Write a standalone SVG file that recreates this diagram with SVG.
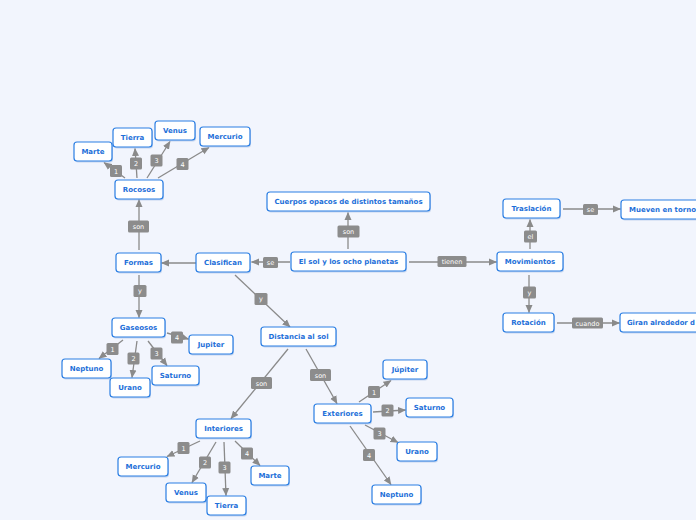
<svg xmlns="http://www.w3.org/2000/svg" width="696" height="520" viewBox="0 0 696 520">
<defs>
<marker id="ah" markerUnits="userSpaceOnUse" markerWidth="8" markerHeight="8" refX="7.5" refY="4" orient="auto">
<path d="M0,0.5 L8,4 L0,7.5 z" fill="#8a8a8a"/>
</marker>
<style>
.n rect.b{fill:#ffffff;stroke:#2a7ee3;stroke-width:1.2}
.n rect.s{fill:#8fb0de;opacity:0.45}
.n text{font-family:"DejaVu Sans",Verdana,sans-serif;font-weight:bold;font-size:7px;fill:#1d6fd9;text-anchor:middle}
.c path{stroke:#8a8a8a;stroke-width:1.3;fill:none;marker-end:url(#ah)}
.l rect{fill:#8c8c8c}
.l text{font-family:"DejaVu Sans",Verdana,sans-serif;font-size:6.5px;fill:#ffffff;text-anchor:middle}
</style>
</defs>
<rect width="696" height="520" fill="#f2f5fd"/>
<g id="connectors" class="c">
<path d="M348,249 L348,212.5"/>
<path d="M290,262 L251.5,262"/>
<path d="M409,262 L496.5,262"/>
<path d="M196,263 L161.5,263"/>
<path d="M235,275 L290,327"/>
<path d="M139,250 L139,199.5"/>
<path d="M139,275 L139,317.5"/>
<path d="M125,178 L104,162.5"/>
<path d="M137,178 L135,148.5"/>
<path d="M147,178 L170,141.5"/>
<path d="M158,178 L209,147.5"/>
<path d="M123,340 L99,358.5"/>
<path d="M137,341 L132,377.5"/>
<path d="M148,341 L167,365.5"/>
<path d="M167,333 L188.5,339"/>
<path d="M288,349 L231,418.5"/>
<path d="M306,349 L337,403.5"/>
<path d="M359,402 L391,380.5"/>
<path d="M373,412 L405.5,410"/>
<path d="M365,425 L398,442.5"/>
<path d="M350,426 L391,484.5"/>
<path d="M200,441 L167,456.5"/>
<path d="M216,442 L192,482.5"/>
<path d="M224,442 L226,495.5"/>
<path d="M235,441 L260,465.5"/>
<path d="M530,249 L530,219.5"/>
<path d="M529,275 L529,312.5"/>
<path d="M563,209 L620.5,209"/>
<path d="M557,323 L619.5,323"/>
<g class="l">
<rect x="337.5" y="225.5" width="22" height="12" rx="1.5"/><text x="348.5" y="234">son</text>
<rect x="263" y="257" width="15" height="11" rx="1.5"/><text x="270.5" y="265">se</text>
<rect x="437.5" y="256" width="29" height="11" rx="1.5"/><text x="452" y="264">tienen</text>
<rect x="254.5" y="293" width="13" height="12" rx="1.5"/><text x="261" y="301">y</text>
<rect x="128" y="220.5" width="21" height="12" rx="1.5"/><text x="138.5" y="229">son</text>
<rect x="133.5" y="285" width="13" height="12" rx="1.5"/><text x="140" y="293">y</text>
<rect x="110" y="165" width="12" height="12" rx="1.5"/><text x="116" y="173.5">1</text>
<rect x="130" y="157.5" width="12" height="12" rx="1.5"/><text x="136" y="166">2</text>
<rect x="150.5" y="154.5" width="12" height="12" rx="1.5"/><text x="156.5" y="163">3</text>
<rect x="176.5" y="158" width="12" height="12" rx="1.5"/><text x="182.5" y="166.5">4</text>
<rect x="106.5" y="343" width="12" height="12" rx="1.5"/><text x="112.5" y="351.5">1</text>
<rect x="127.5" y="352.5" width="12" height="12" rx="1.5"/><text x="133.5" y="361">2</text>
<rect x="150.5" y="347.5" width="12" height="12" rx="1.5"/><text x="156.5" y="356">3</text>
<rect x="171" y="331.5" width="12" height="12" rx="1.5"/><text x="177" y="340">4</text>
<rect x="251" y="377" width="21" height="12" rx="1.5"/><text x="261.5" y="385.5">son</text>
<rect x="310" y="369" width="21" height="12" rx="1.5"/><text x="320.5" y="377.5">son</text>
<rect x="368" y="386" width="12" height="12" rx="1.5"/><text x="374" y="394.5">1</text>
<rect x="381.5" y="404.5" width="12" height="12" rx="1.5"/><text x="387.5" y="413">2</text>
<rect x="373.5" y="427.5" width="12" height="12" rx="1.5"/><text x="379.5" y="436">3</text>
<rect x="363" y="449" width="12" height="12" rx="1.5"/><text x="369" y="457.5">4</text>
<rect x="177.5" y="442" width="12" height="12" rx="1.5"/><text x="183.5" y="450.5">1</text>
<rect x="199" y="456.5" width="12" height="12" rx="1.5"/><text x="205" y="465">2</text>
<rect x="218.5" y="461.5" width="12" height="12" rx="1.5"/><text x="224.5" y="470">3</text>
<rect x="241" y="447.5" width="12" height="12" rx="1.5"/><text x="247" y="456">4</text>
<rect x="524" y="230.5" width="13" height="12" rx="1.5"/><text x="530.5" y="239">el</text>
<rect x="523" y="286.5" width="13" height="12" rx="1.5"/><text x="529.5" y="295">y</text>
<rect x="583" y="204" width="15" height="11" rx="1.5"/><text x="590.5" y="212">se</text>
<rect x="572" y="317.5" width="31" height="11" rx="1.5"/><text x="587.5" y="325.5">cuando</text>
</g>
</g>
<g id="n_sol" class="n"><rect class="s" x="292" y="253.5" width="115" height="19" rx="3"/><rect class="b" x="291" y="252" width="115" height="19" rx="3"/><text x="348.5" y="264">El sol y los ocho planetas</text></g>
<g id="n_cuerpos" class="n"><rect class="s" x="268" y="193.5" width="163" height="19" rx="3"/><rect class="b" x="267" y="192" width="163" height="19" rx="3"/><text x="348.5" y="204">Cuerpos opacos de distintos tamaños</text></g>
<g id="n_clasifican" class="n"><rect class="s" x="197" y="254.5" width="54" height="19" rx="3"/><rect class="b" x="196" y="253" width="54" height="19" rx="3"/><text x="223" y="265">Clasifican</text></g>
<g id="n_formas" class="n"><rect class="s" x="117" y="254.5" width="45" height="19" rx="3"/><rect class="b" x="116" y="253" width="45" height="19" rx="3"/><text x="138.5" y="265">Formas</text></g>
<g id="n_rocosos" class="n"><rect class="s" x="116" y="181.5" width="48" height="19" rx="3"/><rect class="b" x="115" y="180" width="48" height="19" rx="3"/><text x="139" y="192">Rocosos</text></g>
<g id="n_marte1" class="n"><rect class="s" x="75" y="143.5" width="38" height="19" rx="3"/><rect class="b" x="74" y="142" width="38" height="19" rx="3"/><text x="93" y="154">Marte</text></g>
<g id="n_tierra1" class="n"><rect class="s" x="114" y="129.5" width="39" height="19" rx="3"/><rect class="b" x="113" y="128" width="39" height="19" rx="3"/><text x="132.5" y="140">Tierra</text></g>
<g id="n_venus1" class="n"><rect class="s" x="156" y="122.5" width="40" height="19" rx="3"/><rect class="b" x="155" y="121" width="40" height="19" rx="3"/><text x="175" y="133">Venus</text></g>
<g id="n_mercurio1" class="n"><rect class="s" x="201" y="128.5" width="50" height="19" rx="3"/><rect class="b" x="200" y="127" width="50" height="19" rx="3"/><text x="225" y="139">Mercurio</text></g>
<g id="n_gaseosos" class="n"><rect class="s" x="113" y="319.5" width="53" height="19" rx="3"/><rect class="b" x="112" y="318" width="53" height="19" rx="3"/><text x="138.5" y="330">Gaseosos</text></g>
<g id="n_jupiter1" class="n"><rect class="s" x="190" y="336.5" width="44" height="19" rx="3"/><rect class="b" x="189" y="335" width="44" height="19" rx="3"/><text x="211" y="347">Jupiter</text></g>
<g id="n_neptuno1" class="n"><rect class="s" x="63" y="360.5" width="49" height="19" rx="3"/><rect class="b" x="62" y="359" width="49" height="19" rx="3"/><text x="86.5" y="371">Neptuno</text></g>
<g id="n_urano1" class="n"><rect class="s" x="111" y="379.5" width="40" height="19" rx="3"/><rect class="b" x="110" y="378" width="40" height="19" rx="3"/><text x="130" y="390">Urano</text></g>
<g id="n_saturno1" class="n"><rect class="s" x="153" y="367.5" width="47" height="19" rx="3"/><rect class="b" x="152" y="366" width="47" height="19" rx="3"/><text x="175.5" y="378">Saturno</text></g>
<g id="n_distancia" class="n"><rect class="s" x="262" y="328.5" width="75" height="19" rx="3"/><rect class="b" x="261" y="327" width="75" height="19" rx="3"/><text x="298.5" y="339">Distancia al sol</text></g>
<g id="n_exteriores" class="n"><rect class="s" x="315" y="405.5" width="57" height="19" rx="3"/><rect class="b" x="314" y="404" width="57" height="19" rx="3"/><text x="342.5" y="416">Exteriores</text></g>
<g id="n_jupiter2" class="n"><rect class="s" x="384" y="361.5" width="44" height="19" rx="3"/><rect class="b" x="383" y="360" width="44" height="19" rx="3"/><text x="405" y="372">Júpiter</text></g>
<g id="n_saturno2" class="n"><rect class="s" x="407" y="399.5" width="47" height="19" rx="3"/><rect class="b" x="406" y="398" width="47" height="19" rx="3"/><text x="429.5" y="410">Saturno</text></g>
<g id="n_urano2" class="n"><rect class="s" x="398" y="443.5" width="40" height="19" rx="3"/><rect class="b" x="397" y="442" width="40" height="19" rx="3"/><text x="417" y="454">Urano</text></g>
<g id="n_neptuno2" class="n"><rect class="s" x="373" y="486.5" width="49" height="19" rx="3"/><rect class="b" x="372" y="485" width="49" height="19" rx="3"/><text x="396.5" y="497">Neptuno</text></g>
<g id="n_interiores" class="n"><rect class="s" x="197" y="420.5" width="55" height="19" rx="3"/><rect class="b" x="196" y="419" width="55" height="19" rx="3"/><text x="223.5" y="431">Interiores</text></g>
<g id="n_mercurio2" class="n"><rect class="s" x="119" y="458.5" width="50" height="19" rx="3"/><rect class="b" x="118" y="457" width="50" height="19" rx="3"/><text x="143" y="469">Mercurio</text></g>
<g id="n_venus2" class="n"><rect class="s" x="167" y="484.5" width="40" height="19" rx="3"/><rect class="b" x="166" y="483" width="40" height="19" rx="3"/><text x="186" y="495">Venus</text></g>
<g id="n_tierra2" class="n"><rect class="s" x="208" y="497.5" width="39" height="19" rx="3"/><rect class="b" x="207" y="496" width="39" height="19" rx="3"/><text x="226.5" y="508">Tierra</text></g>
<g id="n_marte2" class="n"><rect class="s" x="252" y="467.5" width="38" height="19" rx="3"/><rect class="b" x="251" y="466" width="38" height="19" rx="3"/><text x="270" y="478">Marte</text></g>
<g id="n_movimientos" class="n"><rect class="s" x="498" y="253.5" width="66" height="19" rx="3"/><rect class="b" x="497" y="252" width="66" height="19" rx="3"/><text x="530" y="264">Movimientos</text></g>
<g id="n_traslacion" class="n"><rect class="s" x="504" y="200.5" width="57" height="19" rx="3"/><rect class="b" x="503" y="199" width="57" height="19" rx="3"/><text x="531.5" y="211">Traslación</text></g>
<g id="n_mueven" class="n"><rect class="s" x="622" y="201.5" width="90" height="19" rx="3"/><rect class="b" x="621" y="200" width="90" height="19" rx="3"/><text x="629" y="212" style="text-anchor:start">Mueven en torno</text></g>
<g id="n_rotacion" class="n"><rect class="s" x="504" y="314.5" width="51" height="19" rx="3"/><rect class="b" x="503" y="313" width="51" height="19" rx="3"/><text x="528.5" y="325">Rotación</text></g>
<g id="n_giran" class="n"><rect class="s" x="621" y="314.5" width="90" height="19" rx="3"/><rect class="b" x="620" y="313" width="90" height="19" rx="3"/><text x="627" y="325" style="text-anchor:start" textLength="68" lengthAdjust="spacingAndGlyphs">Giran alrededor d</text></g>
</svg>
